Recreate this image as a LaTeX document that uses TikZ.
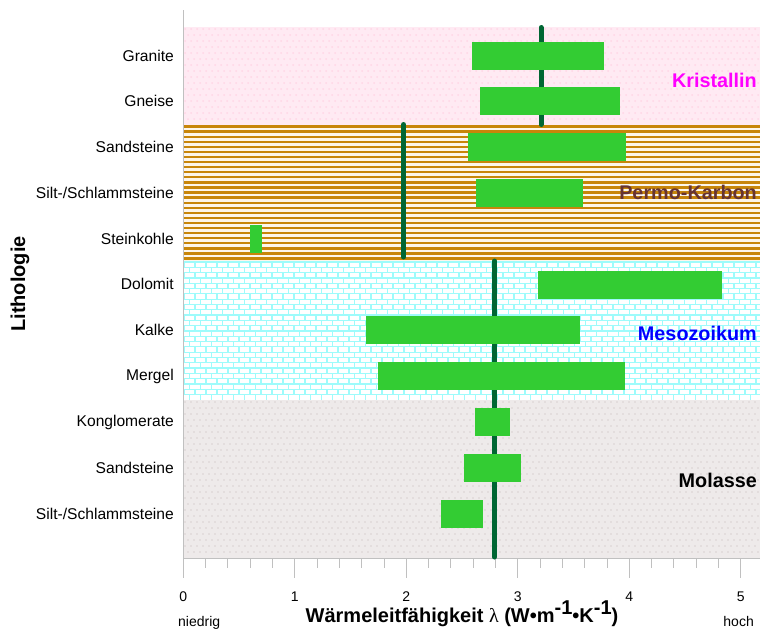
\documentclass[tikz,border=0pt]{standalone}
\usepackage{fontspec}
\setmainfont{Liberation Sans}
\newfontfamily\symfont{Liberation Serif}
\definecolor{bargreen}{HTML}{33CC33}
\definecolor{linegreen}{HTML}{006633}
\definecolor{axisgray}{HTML}{C0C0C0}
\definecolor{pinkbg}{HTML}{FFEAF3}
\definecolor{pinkdot}{HTML}{FFD6E6}
\definecolor{creambg}{HTML}{FDF6EA}
\definecolor{brownline}{HTML}{C8860A}
\definecolor{cyanline}{HTML}{9EFBFB}
\definecolor{graybg}{HTML}{EEEAEA}
\definecolor{graydot}{HTML}{D8D0D0}
\definecolor{permo}{HTML}{663333}
\begin{document}
\begin{tikzpicture}[x=1pt,y=-1pt,
  bar/.style={fill=bargreen},
  meanline/.style={draw=linegreen,line width=5pt,line cap=round},
  rowlabel/.style={anchor=east,inner sep=0pt,font=\fontsize{15.6}{18}\selectfont},
  grouplabel/.style={anchor=east,inner sep=0pt,font=\fontsize{19.8}{22}\selectfont\bfseries},
  ticklabel/.style={inner sep=0pt,font=\fontsize{14}{16}\selectfont},
  axisline/.style={draw=axisgray,line width=1pt}]
\useasboundingbox (0,0) rectangle (760,632);
\fill[white] (0,0) rectangle (760,632);
% Kristallin band
\fill[pinkbg] (183.5,27) rectangle (760,125);
\foreach \r in {0,...,15}{
  \foreach \c in {0,...,95}{
    \fill[pinkdot] ({185+\c*6+mod(\r,2)*3},{29+\r*6}) circle (1);
  }
}
% Permo-Karbon band
\fill[creambg] (183.5,125) rectangle (760,262);
\foreach \i in {0,...,26}{
  \draw[brownline,line width=2.3pt] (183.5,{126.5+5.08*\i}) -- (760,{126.5+5.08*\i});
}
% Mesozoikum band
\fill[white] (183.5,262) rectangle (760,400);
\foreach \r in {0,...,25}{
  \pgfmathsetmacro{\yy}{262+\r*5.3}
  \draw[cyanline,line width=1.2pt] (183.5,\yy) -- (760,\yy);
  \foreach \c in {0,...,52}{
    \draw[cyanline,line width=1.2pt] ({184+\c*11+mod(\r,2)*5.5},\yy) -- ++(0,5.3);
  }
}
% Molasse band
\fill[graybg] (183.5,400) rectangle (760,558);
\foreach \r in {0,...,25}{
  \foreach \c in {0,...,95}{
    \fill[graydot] ({185+\c*6+mod(\r,2)*3},{402+\r*6}) circle (0.8);
  }
}
% axes
\draw[axisline] (183.3,10) -- (183.3,578);
\draw[axisline] (183.3,558) -- (760,558);
\foreach \k in {1,...,25}{
  \draw[axisline] ({183.3+\k*22.3},558) -- ++(0,10);
}
\foreach \k in {1,...,5}{
  \draw[axisline] ({183.3+\k*111.5},558) -- ++(0,20);
}
\foreach \k in {0,...,5}{
  \node[ticklabel] (t\k) at ({183.3+\k*111.5},597) {\k};
}
% mean lines
\draw[meanline] (541,27.5) -- (541,124.5);
\draw[meanline] (403.5,124.5) -- (403.5,257);
\draw[meanline] (494.5,261) -- (494.5,557);
% bars
\fill[bar] (472,42) rectangle (604,70);
\fill[bar] (480,87) rectangle (620,115);
\fill[bar] (468,133) rectangle (626,161);
\fill[bar] (476,179) rectangle (583,207);
\fill[bar] (250,225) rectangle (262,253);
\fill[bar] (538,271) rectangle (722,299);
\fill[bar] (366,316) rectangle (580,344);
\fill[bar] (378,362) rectangle (625,390);
\fill[bar] (475,408) rectangle (510,436);
\fill[bar] (464,454) rectangle (521,482);
\fill[bar] (441,500) rectangle (483,528);
% row labels
\node[rowlabel] (r1) at (174,56) {Granite};
\node[rowlabel] (r2) at (174,101) {Gneise};
\node[rowlabel] (r3) at (174,147) {Sandsteine};
\node[rowlabel] (r4) at (174,193) {Silt-/Schlammsteine};
\node[rowlabel] (r5) at (174,239) {Steinkohle};
\node[rowlabel] (r6) at (174,284) {Dolomit};
\node[rowlabel] (r7) at (174,330) {Kalke};
\node[rowlabel] (r8) at (174,376) {Mergel};
\node[rowlabel] (r9) at (174,422) {Konglomerate};
\node[rowlabel] (r10) at (174,468) {Sandsteine};
\node[rowlabel] (r11) at (174,514) {Silt-/Schlammsteine};
% group labels
\node[grouplabel,text={rgb,255:red,255;green,0;blue,255}] (g1) at (757,80) {Kristallin};
\node[grouplabel,text=permo] (g2) at (757,192) {Permo-Karbon};
\node[grouplabel,text=blue] (g3) at (757,333) {Mesozoikum};
\node[grouplabel,text=black] (g4) at (757,480) {Molasse};
% axis titles
\node[rotate=90,inner sep=0pt,font=\fontsize{20}{22}\selectfont\bfseries] (ytitle) at (20,284) {Lithologie};
\node[ticklabel,anchor=base west] (low) at (178,626) {niedrig};
\node[ticklabel,anchor=base east] (high) at (754,626) {hoch};
\node[inner sep=0pt,anchor=base,font=\fontsize{20}{22}\selectfont\bfseries] (xtitle) at (462,622) {Wärmeleitfähigkeit {\symfont\mdseries λ} (W•m\raisebox{0.4em}{-1}•K\raisebox{0.4em}{-1})};
\end{tikzpicture}
\end{document}
